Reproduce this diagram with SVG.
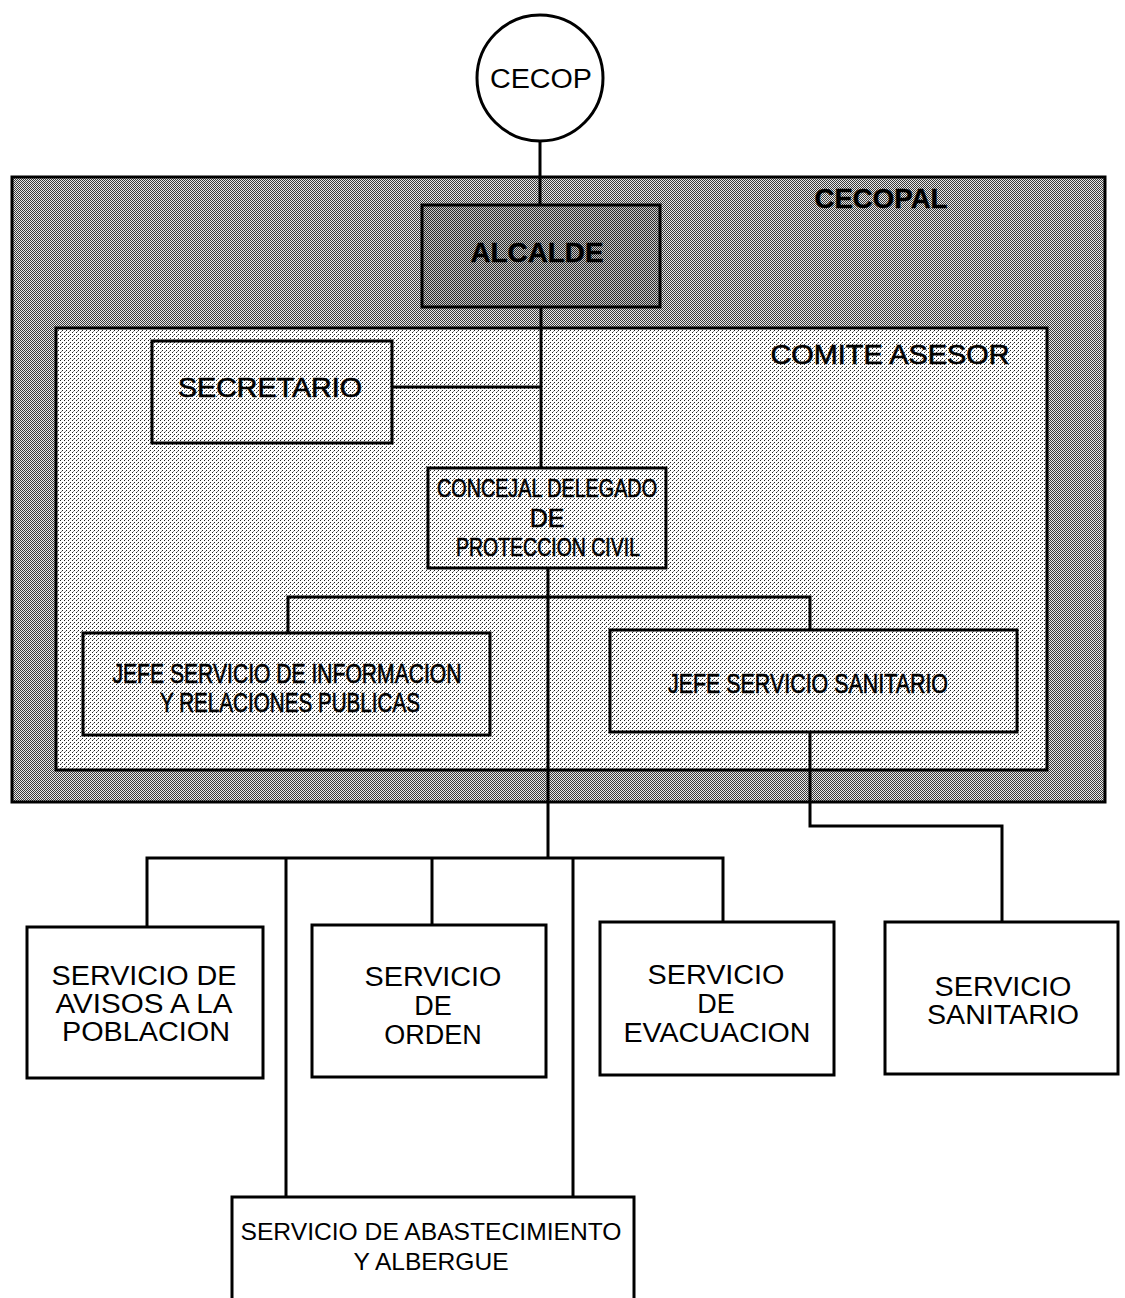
<svg xmlns="http://www.w3.org/2000/svg" width="1125" height="1298" viewBox="0 0 1125 1298">
<defs>
<pattern id="dark" width="2" height="2" patternUnits="userSpaceOnUse">
<rect width="2" height="2" fill="#e8e8e8"/>
<rect x="0" y="0" width="1" height="1" fill="#3a3a3a"/>
<rect x="1" y="1" width="1" height="1" fill="#3a3a3a"/>
</pattern>
<pattern id="darker" width="2" height="2" patternUnits="userSpaceOnUse">
<rect width="2" height="2" fill="#c8c8c8"/>
<rect x="0" y="0" width="1" height="1" fill="#2a2a2a"/>
<rect x="1" y="1" width="1" height="1" fill="#2a2a2a"/>
</pattern>
<pattern id="light" width="4" height="4" patternUnits="userSpaceOnUse">
<rect width="4" height="4" fill="#fff"/>
<rect x="0" y="0" width="1" height="1" fill="#222"/>
<rect x="2" y="2" width="1" height="1" fill="#222"/>
<rect x="1" y="3" width="1" height="1" fill="#888"/>
</pattern>
<style>
.box{stroke:#000;stroke-width:3}
.w{fill:#fff}
.lt{fill:url(#light)}
.dk{fill:url(#dark)}
.dk2{fill:url(#darker)}
.ln{fill:none;stroke:#000;stroke-width:3}
text{font-family:"Liberation Sans",Arial,sans-serif;fill:#000;text-anchor:middle}
.s27{font-size:27px}
.c{font-size:27px;stroke:#000;stroke-width:0.6}
.c25{font-size:25px;stroke:#000;stroke-width:0.6}
.b{font-weight:bold;stroke-width:0.4}
</style>
</defs>
<rect width="1125" height="1298" fill="#fff"/>

<g id="cecopal">
<rect class="box dk" x="12" y="177" width="1093" height="625"/>
<text class="c b" x="881" y="208" textLength="133" lengthAdjust="spacingAndGlyphs">CECOPAL</text>
</g>

<g id="comite">
<rect class="box lt" x="56" y="328" width="991" height="442"/>
<text class="c" x="890" y="364" textLength="239" lengthAdjust="spacingAndGlyphs">COMITE ASESOR</text>
</g>

<g id="connectors">
<path class="ln" d="M540 141 V205"/>
<path class="ln" d="M541 307 V468"/>
<path class="ln" d="M392 387 H541"/>
<path class="ln" d="M548 568 V858"/>
<path class="ln" d="M288 633 V597 H810 V630"/>
<path class="ln" d="M810 732 V826 H1002 V922"/>
<path class="ln" d="M147 927 V858 H723 V922"/>
<path class="ln" d="M286 858 V1197"/>
<path class="ln" d="M432 858 V925"/>
<path class="ln" d="M573 858 V1197"/>
</g>

<g id="cecop">
<circle class="box w" cx="540" cy="78" r="63"/>
<text class="s27" x="541" y="88" textLength="102" lengthAdjust="spacingAndGlyphs">CECOP</text>
</g>

<g id="alcalde">
<rect class="box dk2" x="422" y="205" width="238" height="102"/>
<text class="c b" x="537" y="262" textLength="133" lengthAdjust="spacingAndGlyphs">ALCALDE</text>
</g>

<g id="secretario">
<rect class="box lt" x="152" y="341" width="240" height="102"/>
<text class="c" x="270" y="397" textLength="184" lengthAdjust="spacingAndGlyphs">SECRETARIO</text>
</g>

<g id="concejal">
<rect class="box lt" x="428" y="468" width="238" height="100"/>
<text class="c25" x="547" y="497" textLength="220" lengthAdjust="spacingAndGlyphs">CONCEJAL DELEGADO</text>
<text class="c25" x="547" y="527">DE</text>
<text class="c25" x="548" y="556" textLength="184" lengthAdjust="spacingAndGlyphs">PROTECCION CIVIL</text>
</g>

<g id="jefe-informacion">
<rect class="box lt" x="83" y="633" width="407" height="102"/>
<text class="c" x="287" y="683" textLength="349" lengthAdjust="spacingAndGlyphs">JEFE SERVICIO DE INFORMACION</text>
<text class="c" x="290" y="712" textLength="260" lengthAdjust="spacingAndGlyphs">Y RELACIONES PUBLICAS</text>
</g>

<g id="jefe-sanitario">
<rect class="box lt" x="610" y="630" width="407" height="102"/>
<text class="c" x="808" y="693" textLength="280" lengthAdjust="spacingAndGlyphs">JEFE SERVICIO SANITARIO</text>
</g>

<g id="avisos">
<rect class="box w" x="27" y="927" width="236" height="151"/>
<text class="s27" x="144" y="985" textLength="185" lengthAdjust="spacingAndGlyphs">SERVICIO DE</text>
<text class="s27" x="144" y="1013" textLength="177" lengthAdjust="spacingAndGlyphs">AVISOS A LA</text>
<text class="s27" x="146" y="1041" textLength="168" lengthAdjust="spacingAndGlyphs">POBLACION</text>
</g>

<g id="orden">
<rect class="box w" x="312" y="925" width="234" height="152"/>
<text class="s27" x="433" y="986" textLength="137" lengthAdjust="spacingAndGlyphs">SERVICIO</text>
<text class="s27" x="433" y="1015">DE</text>
<text class="s27" x="433" y="1044">ORDEN</text>
</g>

<g id="evacuacion">
<rect class="box w" x="600" y="922" width="234" height="153"/>
<text class="s27" x="716" y="984" textLength="137" lengthAdjust="spacingAndGlyphs">SERVICIO</text>
<text class="s27" x="716" y="1013">DE</text>
<text class="s27" x="717" y="1042" textLength="187" lengthAdjust="spacingAndGlyphs">EVACUACION</text>
</g>

<g id="sanitario">
<rect class="box w" x="885" y="922" width="233" height="152"/>
<text class="s27" x="1003" y="996" textLength="137" lengthAdjust="spacingAndGlyphs">SERVICIO</text>
<text class="s27" x="1003" y="1024" textLength="152" lengthAdjust="spacingAndGlyphs">SANITARIO</text>
</g>

<g id="abastecimiento">
<rect class="box w" x="232" y="1197" width="402" height="110"/>
<text style="font-size:24px" x="431" y="1240" textLength="381" lengthAdjust="spacingAndGlyphs">SERVICIO DE ABASTECIMIENTO</text>
<text style="font-size:24px" x="431" y="1270" textLength="155" lengthAdjust="spacingAndGlyphs">Y ALBERGUE</text>
</g>
</svg>
